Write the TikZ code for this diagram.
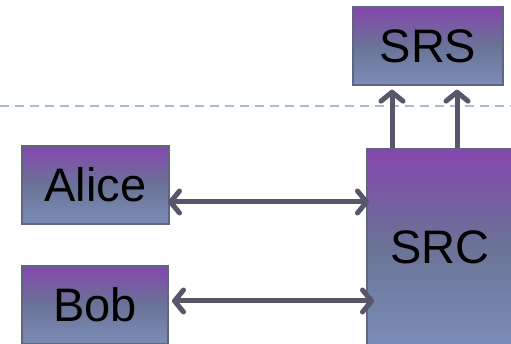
\documentclass[tikz,border=0pt]{standalone}
\usepackage{fontspec}
\setmainfont{Liberation Sans}
\usetikzlibrary{arrows.meta}
\definecolor{ptop}{HTML}{8447AE}
\definecolor{pmid}{HTML}{6A7396}
\definecolor{pbot}{HTML}{7C8DB8}
\definecolor{pedge}{HTML}{5F6680}
\definecolor{arr}{HTML}{57566A}
\definecolor{dashc}{HTML}{A3BED0}
\tikzset{
  box/.style={draw=pedge, line width=1.3pt, inner sep=0pt, top color=ptop, bottom color=pbot, middle color=pmid, font=\fontsize{47}{47}\selectfont, text=black},
  conn/.style={draw=arr, line width=5pt, line cap=round, arrows={Straight Barb[length=9pt,width=22pt,line cap=round,line join=round]-Straight Barb[length=9pt,width=22pt,line cap=round,line join=round]}},
  up/.style={draw=arr, line width=5pt, shorten >=4pt, arrows={-Straight Barb[length=9pt,width=22pt,line cap=round,line join=round]}}
}
\begin{document}
\begin{tikzpicture}[x=1pt,y=-1pt]
\useasboundingbox (0,0) rectangle (511,344);
\draw[dashc, line width=1.2pt, dash pattern=on 9pt off 6pt] (0,106) -- (511,106);
\node[box, minimum width=150pt, minimum height=78pt] (srs) at (428,46) {SRS};
\node[box, minimum width=147pt, minimum height=78pt] (alice) at (95.5,185) {Alice};
\node[box, minimum width=146pt, minimum height=78pt] (bob) at (95,305) {Bob};
\node[box, minimum width=146pt, minimum height=196pt] (src) at (440,247) {SRC};
\coordinate (a1) at (168,202);
\coordinate (a2) at (369,202);
\coordinate (b1) at (172,301);
\coordinate (b2) at (374,301);
\draw[conn] (a1) -- (a2);
\draw[conn] (b1) -- (b2);
\draw[up] (src.north -| 392,0) -- (srs.south -| 392,0);
\draw[up] (src.north -| 457,0) -- (srs.south -| 457,0);
\end{tikzpicture}
\end{document}
